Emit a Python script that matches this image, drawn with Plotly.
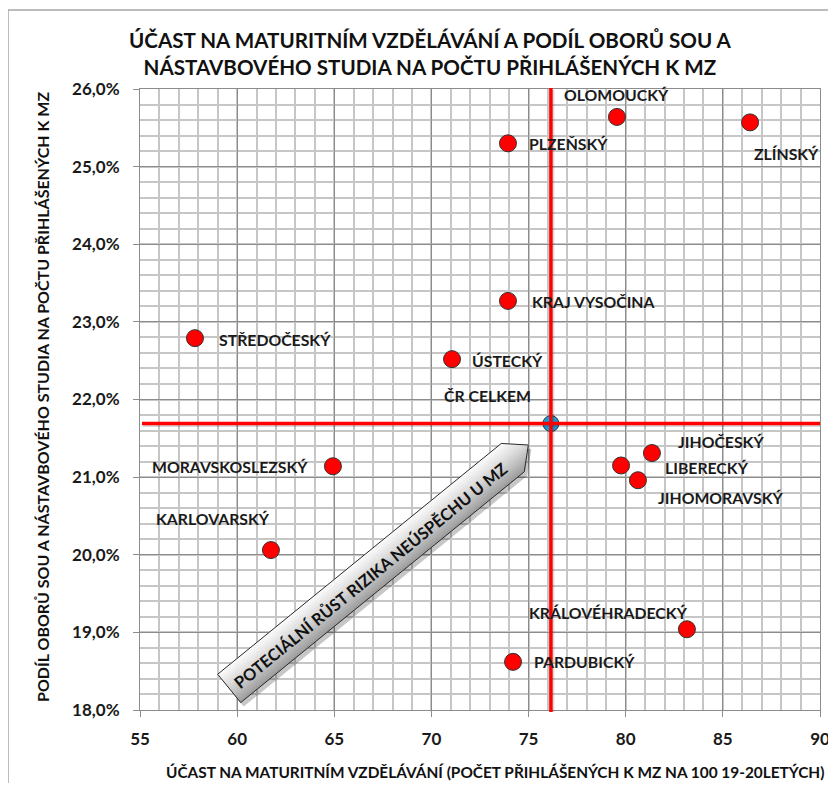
import math
import plotly.graph_objects as go

# ---------------- data ----------------
regions = ["OLOMOUCKÝ", "ZLÍNSKÝ", "PLZEŇSKÝ", "KRAJ VYSOČINA", "STŘEDOČESKÝ", "ÚSTECKÝ",
           "MORAVSKOSLEZSKÝ", "KARLOVARSKÝ", "JIHOČESKÝ", "LIBERECKÝ", "JIHOMORAVSKÝ",
           "KRÁLOVÉHRADECKÝ", "PARDUBICKÝ"]
ucast = [79.55, 86.4, 73.94, 73.94, 57.83, 71.06, 64.93, 61.74, 81.35, 79.76, 80.63, 83.15, 74.2]
podil = [25.64, 25.57, 25.30, 23.27, 22.79, 22.52, 21.14, 20.06, 21.31, 21.15, 20.96, 19.04, 18.62]

cr_label = "ČR CELKEM"
cr_ucast = 76.15
cr_podil = 21.69

x_ticks = [55, 60, 65, 70, 75, 80, 85, 90]
y_ticks = [18, 19, 20, 21, 22, 23, 24, 25, 26]
y_ticktext = [f"{v:.1f}".replace(".", ",") + "%" for v in y_ticks]

title_text = "ÚČAST NA MATURITNÍM VZDĚLÁVÁNÍ A PODÍL OBORŮ SOU A<br>NÁSTAVBOVÉHO STUDIA NA POČTU PŘIHLÁŠENÝCH K MZ"
x_title = "ÚČAST NA MATURITNÍM VZDĚLÁVÁNÍ (POČET PŘIHLÁŠENÝCH K MZ NA 100 19-20LETÝCH)"
y_title = "PODÍL OBORŮ SOU A NÁSTAVBOVÉHO STUDIA NA POČTU PŘIHLÁŠENÝCH K MZ"
arrow_text = "POTECIÁLNÍ RŮST RIZIKA NEÚSPĚCHU U MZ"

# label placement (style): xanchor, xshift, yshift
label_pos = {
    "OLOMOUCKÝ": ("center", 0, 22),
    "ZLÍNSKÝ": ("left", 2, -31),
    "PLZEŇSKÝ": ("left", 19, 0),
    "KRAJ VYSOČINA": ("left", 22, -1),
    "STŘEDOČESKÝ": ("left", 22, -1),
    "ÚSTECKÝ": ("left", 18, -1),
    "MORAVSKOSLEZSKÝ": ("right", -23, 0),
    "KARLOVARSKÝ": ("right", 1, 32),
    "JIHOČESKÝ": ("left", 24, 12),
    "LIBERECKÝ": ("left", 42, -2),
    "JIHOMORAVSKÝ": ("left", 18, -17),
    "KRÁLOVÉHRADECKÝ": ("right", 3, 17),
    "PARDUBICKÝ": ("left", 19, 0),
}

# ---------------- layout geometry ----------------
OFF = 8  # default page body margin
W, H = 836 - OFF, 791 - 2 * OFF
PL, PR, PT, PB = 140, 820, 89, 710  # plot area in screen pixels
ML, MT = PL - OFF, PT - OFF
MR, MB = W - (PR - OFF), H - (PB - OFF)
PW, PH = PR - PL, PB - PT
FONT = "Lato, Calibri, Arial"


def paper(px, py):
    """screen pixel -> paper coordinates"""
    return ((px - PL) / PW, (PB - py) / PH)


fig = go.Figure()

fig.add_trace(go.Scatter(
    x=ucast, y=podil, mode="markers", name="kraje",
    marker=dict(size=17, color="#ff0000", line=dict(color="#333333", width=1)),
    hovertext=regions, showlegend=False,
))
fig.add_trace(go.Scatter(
    x=[cr_ucast], y=[cr_podil], mode="markers", name=cr_label,
    marker=dict(size=16, color="#1f9ad6", line=dict(color="#333333", width=1)),
    showlegend=False,
))

shapes = []

# outer chart border
bx0, by0 = paper(8, 10)
bx1, _ = paper(900, 10)
_, by1 = paper(8, 900)
shapes.append(dict(type="line", xref="paper", yref="paper", x0=bx0, y0=by0, x1=bx1, y1=by0,
                   line=dict(color="#a6a6a6", width=1.5), layer="below"))
shapes.append(dict(type="line", xref="paper", yref="paper", x0=bx0, y0=by0, x1=bx0, y1=by1,
                   line=dict(color="#a6a6a6", width=1.5), layer="below"))

# arrow (pixel-space geometry)
tail = (229.2, 688.4)
tip = (528.3, 445.0)
aw = 36.5
head = 20.0
dx, dy = tip[0] - tail[0], tip[1] - tail[1]
ln = math.hypot(dx, dy)
u = (dx / ln, dy / ln)
nrm = (-u[1], u[0])  # points to lower-right side
body = ln - head


def pt(s, t, off=(0, 0)):
    px = tail[0] + t * u[0] + s * nrm[0] + off[0]
    py = tail[1] + t * u[1] + s * nrm[1] + off[1]
    return paper(px, py)


def Lof(s):
    return body + head * (1 - abs(s) / (aw / 2))


def path_of(points):
    return "M " + " L ".join(f"{x:.5f},{y:.5f}" for x, y in points) + " Z"


outline_local = [(-aw / 2, 0), (aw / 2, 0), (aw / 2, body), (0, body + head), (-aw / 2, body)]
# shadow
shapes.append(dict(type="path", xref="paper", yref="paper",
                   path=path_of([pt(s, t, (3, 4)) for s, t in outline_local]),
                   fillcolor="rgba(0,0,0,0.22)", line=dict(width=0), layer="above"))
# gradient bands
NB = 14
for i in range(NB):
    s0 = -aw / 2 + aw * i / NB
    s1 = -aw / 2 + aw * (i + 1) / NB
    pts = [pt(s0, 0), pt(s1, 0), pt(s1, Lof(s1))]
    if s0 < 0 < s1:
        pts.append(pt(0, body + head))
    pts.append(pt(s0, Lof(s0)))
    f = (i + 0.5) / NB
    g = int(round(250 - 95 * f ** 1.3))
    shapes.append(dict(type="path", xref="paper", yref="paper", path=path_of(pts),
                       fillcolor=f"rgb({g},{g},{g})", line=dict(width=0.6, color=f"rgb({g},{g},{g})"),
                       layer="above"))
shapes.append(dict(type="path", xref="paper", yref="paper",
                   path=path_of([pt(s, t) for s, t in outline_local]),
                   fillcolor="rgba(0,0,0,0)", line=dict(color="#2a2a2a", width=1), layer="above"))

# red reference lines (with faint shadow)
shapes.append(dict(type="line", xref="x", yref="paper", x0=cr_ucast + 0.1, x1=cr_ucast + 0.1,
                   y0=paper(0, 712)[1], y1=paper(0, 90)[1],
                   line=dict(color="rgba(0,0,0,0.15)", width=3), layer="above"))
shapes.append(dict(type="line", xref="paper", yref="y", x0=paper(143, 0)[0], x1=1.0,
                   y0=cr_podil - 0.025, y1=cr_podil - 0.025,
                   line=dict(color="rgba(0,0,0,0.15)", width=3), layer="above"))
shapes.append(dict(type="line", xref="x", yref="paper", x0=cr_ucast, x1=cr_ucast,
                   y0=paper(0, 712)[1], y1=paper(0, 88)[1],
                   line=dict(color="#ff0000", width=3.5), layer="above"))
shapes.append(dict(type="line", xref="paper", yref="y", x0=paper(142, 0)[0], x1=1.0,
                   y0=cr_podil, y1=cr_podil,
                   line=dict(color="#ff0000", width=3.5), layer="above"))

annotations = []
lab_font = dict(family=FONT, size=15.8, color="#1a1a1a", weight="bold")
for name, xv, yv in zip(regions, ucast, podil):
    xa, xs, ys = label_pos[name]
    annotations.append(dict(x=xv, y=yv, xref="x", yref="y", text=name, showarrow=False,
                            xanchor=xa, yanchor="middle", xshift=xs, yshift=ys, font=lab_font))
annotations.append(dict(x=cr_ucast, y=cr_podil, xref="x", yref="y", text=cr_label, showarrow=False,
                        xanchor="center", yanchor="middle", xshift=-63, yshift=28, font=lab_font))

# arrow text
tx, ty = paper(370, 575)
annotations.append(dict(x=tx, y=ty, xref="paper", yref="paper", text=arrow_text, showarrow=False,
                        textangle=-math.degrees(math.atan2(-dy, dx)),
                        xanchor="center", yanchor="middle",
                        font=dict(family=FONT, size=16.5, color="#111111", weight="bold")))

# title & axis titles
t1x, t1y = paper(430, 54)
annotations.append(dict(x=t1x, y=t1y, xref="paper", yref="paper", text=title_text, showarrow=False,
                        xanchor="center", yanchor="middle", align="center",
                        font=dict(family=FONT, size=20.6, color="#111111", weight="bold")))
xtx, xty = paper(495, 772)
annotations.append(dict(x=xtx, y=xty, xref="paper", yref="paper", text=x_title, showarrow=False,
                        xanchor="center", yanchor="middle",
                        font=dict(family=FONT, size=15.4, color="#111111", weight="bold")))
ytx, yty = paper(42, 397)
annotations.append(dict(x=ytx, y=yty, xref="paper", yref="paper", text=y_title, showarrow=False,
                        textangle=-90, xanchor="center", yanchor="middle",
                        font=dict(family=FONT, size=16, color="#111111", weight="bold")))

fig.update_layout(
    width=W, height=H, autosize=False,
    margin=dict(l=ML, r=MR, t=MT, b=MB, pad=0, autoexpand=False),
    paper_bgcolor="white", plot_bgcolor="white",
    separators=", ",
    shapes=shapes, annotations=annotations,
    font=dict(family=FONT),
)
fig.update_xaxes(
    range=[55, 90], tickvals=x_ticks, ticktext=[str(v) for v in x_ticks], automargin=False,
    showgrid=True, gridcolor="#8c8c8c", gridwidth=1,
    minor=dict(dtick=1, tick0=55, showgrid=True, gridcolor="#c6c6c6", gridwidth=1.5),
    showline=True, linecolor="#8c8c8c", linewidth=1, mirror=True,
    ticks="outside", ticklen=6, tickcolor="#8c8c8c", zeroline=False,
    tickfont=dict(family=FONT, size=17, color="#1a1a1a", weight="bold"),
    ticklabelstandoff=8,
)
fig.update_yaxes(
    range=[18, 26], tickvals=y_ticks, ticktext=y_ticktext, automargin=False,
    showgrid=True, gridcolor="#8c8c8c", gridwidth=1,
    minor=dict(dtick=0.2, tick0=18, showgrid=True, gridcolor="#c6c6c6", gridwidth=1.5),
    showline=True, linecolor="#8c8c8c", linewidth=1, mirror=True,
    ticks="outside", ticklen=6, tickcolor="#8c8c8c", zeroline=False,
    tickfont=dict(family=FONT, size=17, color="#1a1a1a", weight="bold"),
    ticklabelstandoff=10,
)

fig.write_html("out.html")
